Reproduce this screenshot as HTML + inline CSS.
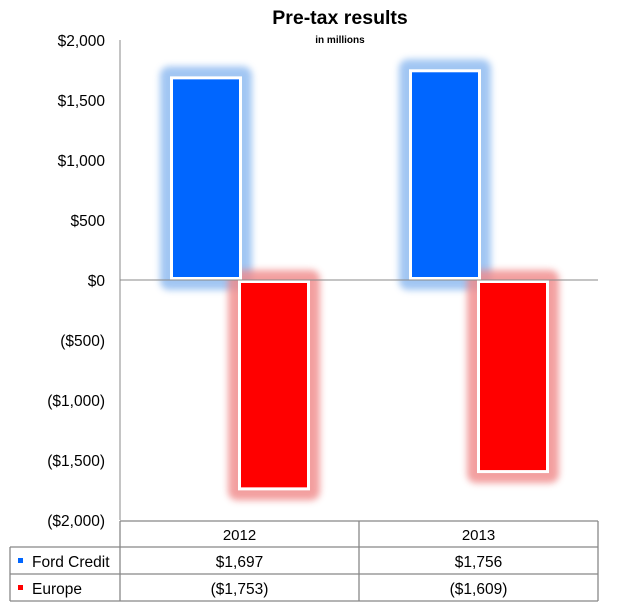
<!DOCTYPE html>
<html><head><meta charset="utf-8"><style>
body{margin:0;background:#fff;}
svg{display:block;font-family:"Liberation Sans",Arial,sans-serif;}
</style></head><body>
<svg id="c" width="631" height="613">
<defs>
<filter id="glowB" x="-50%" y="-50%" width="200%" height="200%"><feGaussianBlur stdDeviation="3.5"/></filter>
</defs>
<text x="340" y="24" text-anchor="middle" font-size="19.5" font-weight="bold">Pre-tax results</text>
<text x="340" y="43" text-anchor="middle" font-size="10" font-weight="bold">in millions</text>
<g id="plot"></g>
</svg>
<script>
const categories=["2012","2013"];
const seriesNames=["Ford Credit","Europe"];
const fordCredit=[1697,1756];
const europe=[-1753,-1609];
const tickValues=[2000,1500,1000,500,0,-500,-1000,-1500,-2000];
const tickLabels=["$2,000","$1,500","$1,000","$500","$0","($500)","($1,000)","($1,500)","($2,000)"];
const printedFord=["$1,697","$1,756"];
const printedEurope=["($1,753)","($1,609)"];

const NS="http://www.w3.org/2000/svg";
const g=document.getElementById('plot');
const L=120,R=598,T=40,B=520;
const y=v=>280-v*0.12;
const catW=(R-L)/categories.length;
const x=i=>L+i*catW;
function el(t,a,p){const e=document.createElementNS(NS,t);for(const k in a)e.setAttribute(k,a[k]);(p||g).appendChild(e);return e;}

tickValues.forEach((v,i)=>{
 const t=el('text',{x:105,y:y(v)+6,'text-anchor':'end','font-size':15.5});
 t.textContent=tickLabels[i];
 
 
});
const ax=el('line',{x1:L,y1:T,x2:L,y2:B,stroke:'#888','stroke-width':1});



const series=[fordCredit,europe];
const fills=["#0066ff","#ff0000"];
const glows=["#8ab8f0","#f08888"];
const bw=72;
const bxOf=(i,j)=>x(i)+50+j*68;
categories.forEach((c,i)=>{
 series.forEach((s,j)=>{
  const bx=bxOf(i,j);
  const v=s[i]; const top=Math.min(y(v),y(0)), h=Math.abs(y(v)-y(0));
  const gl=el('rect',{x:bx-10,y:top-10,width:bw+20,height:h+20,rx:9,fill:glows[j],opacity:0.8,filter:'url(#glowB)'});
  
  
 });
});
categories.forEach((c,i)=>{
 series.forEach((s,j)=>{
  const bx=bxOf(i,j);
  const v=s[i]; const top=Math.min(y(v),y(0)), h=Math.abs(y(v)-y(0));
  const r=el('rect',{x:bx+1.5,y:top+1.5,width:bw-3,height:h-3,fill:fills[j],stroke:'#fff','stroke-width':3});
  
  
 });
});
const zl=el('line',{x1:L,y1:y(0),x2:R,y2:y(0),stroke:'#888','stroke-width':1});



const st={stroke:'#888','stroke-width':1.3,fill:'none'};
el('line',Object.assign({x1:L,y1:521,x2:R,y2:521},st));
el('line',Object.assign({x1:10,y1:547,x2:R,y2:547},st));
el('line',Object.assign({x1:10,y1:574,x2:R,y2:574},st));
el('line',Object.assign({x1:10,y1:601,x2:R,y2:601},st));
el('line',Object.assign({x1:10,y1:547,x2:10,y2:601},st));
el('line',Object.assign({x1:L,y1:521,x2:L,y2:601},st));
el('line',Object.assign({x1:R,y1:521,x2:R,y2:601},st));
categories.forEach((c,i)=>{
 if(i>0) el('line',Object.assign({x1:x(i),y1:521,x2:x(i),y2:601},st));
 const cx=x(i)+catW/2;
 const h=el('text',{x:cx,y:540,'text-anchor':'middle','font-size':15});h.textContent=c;
 
 
 const a=el('text',{x:cx,y:567,'text-anchor':'middle','font-size':15.5});a.textContent=printedFord[i];
 
 
 const b=el('text',{x:cx,y:594,'text-anchor':'middle','font-size':15.5});b.textContent=printedEurope[i];
 
 
});
seriesNames.forEach((n,j)=>{
 const yy=j==0?567:594;
 const sw=el('rect',{x:18,y:yy-9,width:5,height:5,fill:fills[j]});
 
 
 const t=el('text',{x:32,y:yy,'font-size':15.5});t.textContent=n;
 
 
});
</script>
</body></html>
